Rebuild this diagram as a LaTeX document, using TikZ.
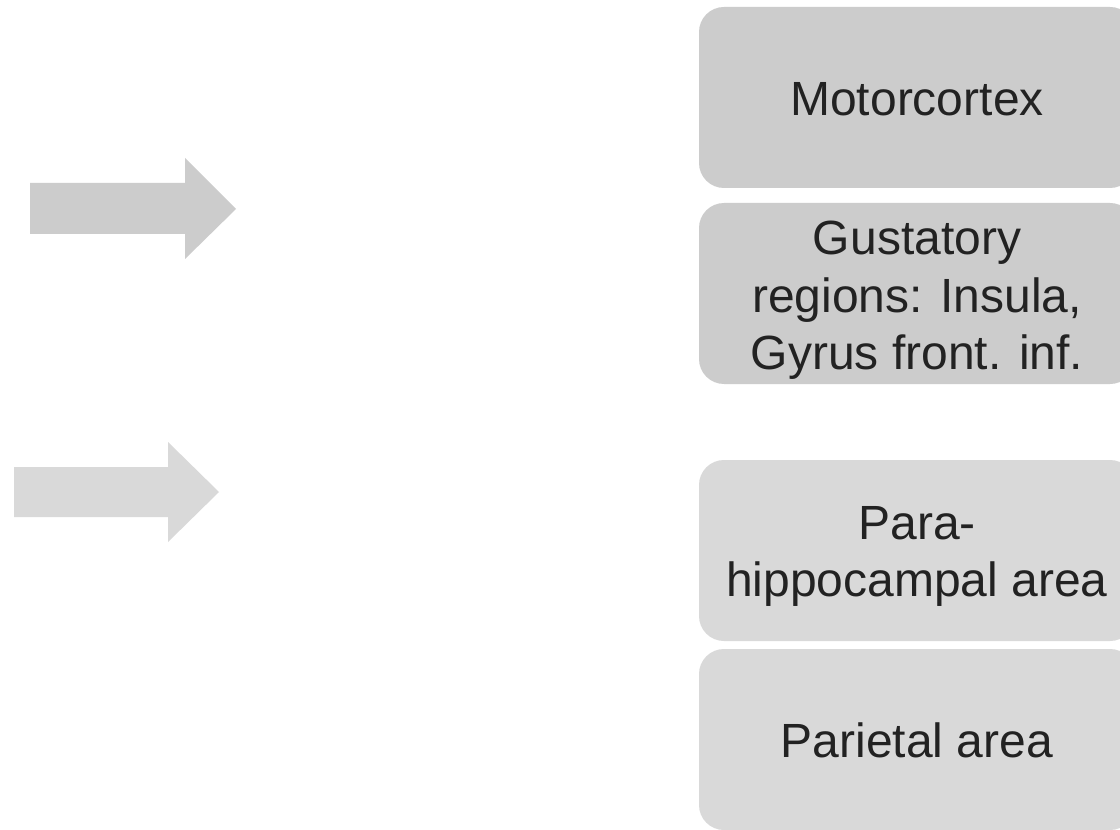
\documentclass[tikz,border=0pt]{standalone}
\usepackage{fontspec}
\setmainfont{Liberation Sans}
\definecolor{boxA}{HTML}{CCCCCC}
\definecolor{boxB}{HTML}{D9D9D9}
\definecolor{txt}{HTML}{222222}
\begin{document}
\begin{tikzpicture}[x=0.75pt,y=-0.75pt,
  region/.style={draw=none, rounded corners=18.75pt, minimum width=327pt, minimum height=135.75pt, inner sep=0pt},
  label/.style={text=txt, font=\fontsize{36pt}{42.75pt}\selectfont, align=center, anchor=base, inner sep=0pt}]
\useasboundingbox (0,0) rectangle (1120,830);
\clip (0,0) rectangle (1120,830);
\fill[white] (0,0) rectangle (1120,830);
% arrows
\fill[boxA] (30,183) -- (185,183) -- (185,158) -- (236,209) -- (185,259) -- (185,234) -- (30,234) -- cycle;
\fill[boxB] (14,467) -- (168,467) -- (168,442) -- (219,492) -- (168,542) -- (168,517) -- (14,517) -- cycle;
% boxes
\node[region, fill=boxA] (motor) at (917,97.5) {};
\node[region, fill=boxA] (gust) at (917,293.5) {};
\node[region, fill=boxB] (para) at (917,550.5) {};
\node[region, fill=boxB] (pariet) at (917,739.5) {};
% texts
\node[label] (tmotor) at (917,116) {Motorcortex};
\node[label] (tgust) at (917,369) {Gustatory\\regions: Insula,\\Gyrus front. inf.};
\node[label] (tpara) at (917,596) {Para-\\hippocampal area};
\node[label] (tpariet) at (917,757) {Parietal area};
\end{tikzpicture}
\end{document}
